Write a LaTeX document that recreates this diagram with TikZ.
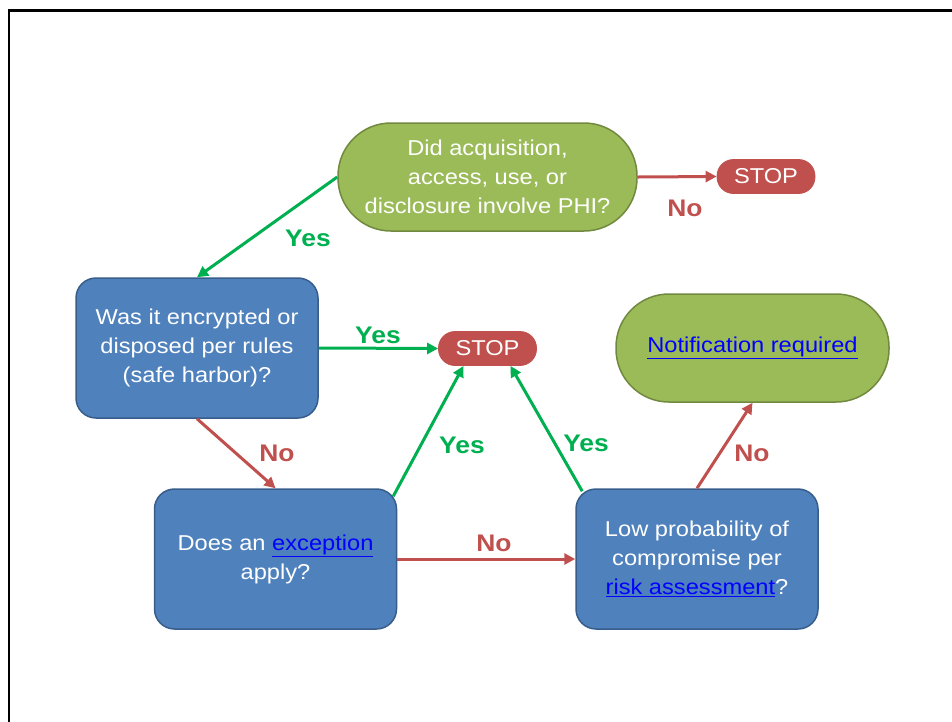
\documentclass[tikz,border=0pt]{standalone}
\usepackage{fontspec}
\setmainfont{Liberation Sans}[FakeStretch=1.1]
\usetikzlibrary{arrows.meta}
\definecolor{gfill}{HTML}{9BBB59}
\definecolor{gdraw}{HTML}{71893F}
\definecolor{bfill}{HTML}{4F81BD}
\definecolor{bdraw}{HTML}{385D8A}
\definecolor{rfill}{HTML}{C0504D}
\definecolor{garrow}{HTML}{00B050}
\definecolor{rarrow}{HTML}{C0504D}
\definecolor{linkblue}{HTML}{0000FF}
\newcommand{\lnk}[1]{\textcolor{linkblue}{\underline{#1}}}
\begin{document}
\begin{tikzpicture}[x=1pt,y=-1pt,
  every node/.style={font=\fontsize{21.5}{29}\selectfont, text=white, align=center, inner sep=0pt},
  greenterm/.style={fill=gfill, draw=gdraw, line width=1.5pt, rounded corners=53pt, minimum height=108pt},
  bluebox/.style={fill=bfill, draw=bdraw, line width=1.5pt, rounded corners=20pt, minimum width=242pt, minimum height=140pt},
  stopbox/.style={fill=rfill, draw=rfill, line width=0.8pt, rounded corners=16.5pt, minimum width=98pt, minimum height=34pt},
  yesarrow/.style={draw=garrow, line width=3pt, -{Triangle[length=11pt,width=11pt]}},
  noarrow/.style={draw=rarrow, line width=3pt, -{Triangle[length=11pt,width=11pt]}},
  yeslbl/.style={font=\fontsize{24}{27}\selectfont\bfseries, text=garrow},
  nolbl/.style={font=\fontsize{24}{27}\selectfont\bfseries, text=rarrow}
]
\useasboundingbox (0,0) rectangle (952,721);
\draw[line width=2.2pt] (9,730) -- (9,10.5) -- (960,10.5);

\node[greenterm, minimum width=299pt] (phi) at (487.5,177) {\rule{0pt}{4pt}Did acquisition,\\access, use, or\\disclosure involve PHI?};
\node[stopbox] (stop1) at (766,176.5) {STOP};
\node[bluebox] (enc) at (197,348) {\rule{0pt}{4pt}Was it encrypted or\\disposed per rules\\(safe harbor)?};
\node[stopbox] (stop2) at (487.5,348.5) {STOP};
\node[greenterm, minimum width=273pt] (notif) at (752.5,348) {\lnk{Notification required}};
\node[bluebox] (exc) at (275.5,559) {\rule{0pt}{4pt}Does an \lnk{exception}\\apply?};
\node[bluebox] (risk) at (697,559) {\rule{0pt}{4pt}Low probability of\\compromise per\\\lnk{risk assessment}?};

\draw[noarrow] (phi.east) -- (stop1.west);
\draw[yesarrow] (phi.west) -- (enc.north);
\draw[yesarrow] (enc.east) -- (stop2.west);
\draw[noarrow] (enc.south) -- (exc.north);
\draw[yesarrow] ([shift={(-4,8)}]exc.north east) -- ([xshift=-24pt]stop2.south);
\draw[yesarrow] ([shift={(7,3)}]risk.north west) -- ([xshift=23pt]stop2.south);
\draw[noarrow] (exc.east) -- (risk.west);
\draw[noarrow] (risk.north) -- (notif.south);

\node[nolbl] (l1) at (685,208) {No};
\node[yeslbl] (l2) at (308,238) {Yes};
\node[yeslbl] (l3) at (378,335) {Yes};
\node[nolbl] (l4) at (277,453) {No};
\node[yeslbl] (l5) at (462,445) {Yes};
\node[yeslbl] (l6) at (586,443) {Yes};
\node[nolbl] (l7) at (494,543) {No};
\node[nolbl] (l8) at (752,453) {No};
\end{tikzpicture}
\end{document}
